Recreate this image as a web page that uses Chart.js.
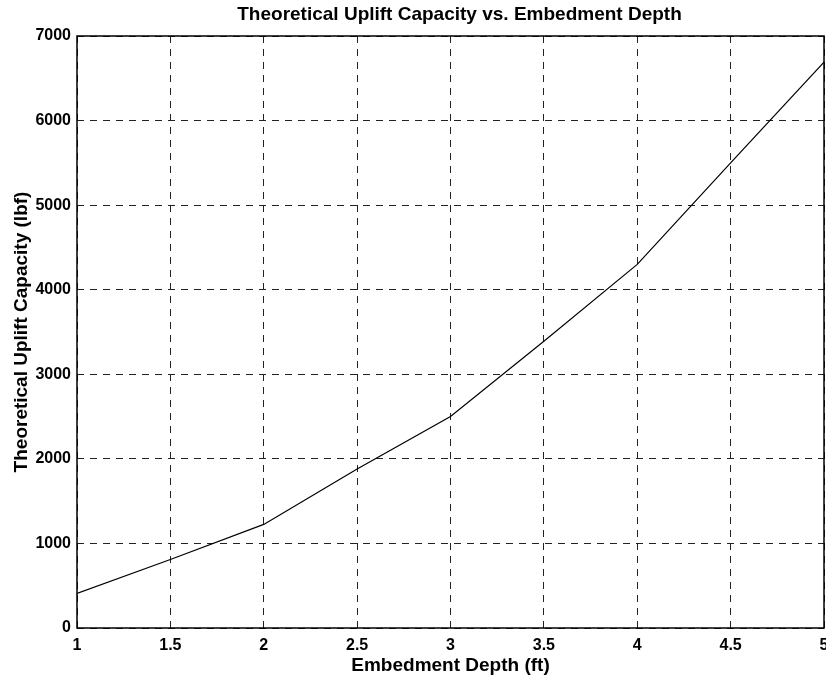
<!DOCTYPE html>
<html>
<head>
<meta charset="utf-8">
<script src="https://cdn.jsdelivr.net/npm/chart.js@4"></script>
<style>
  html, body { margin: 0; padding: 0; background: #fff; }
  #wrap { width: 826px; height: 679px; }
</style>
</head>
<body>
<div id="wrap"><canvas id="chart" width="826" height="679"></canvas></div>
<script>
// embedment depth (ft) and theoretical uplift capacity (lbf)
var depths = [1, 1.5, 2, 2.5, 3, 3.5, 4, 4.5, 5];
var capacity = [410, 810, 1225, 1880, 2500, 3390, 4300, 5500, 6690];
var xTicks = [1, 1.5, 2, 2.5, 3, 3.5, 4, 4.5, 5];
var yTicks = [0, 1000, 2000, 3000, 4000, 5000, 6000, 7000];
var chartTitle = 'Theoretical Uplift Capacity vs. Embedment Depth';

var points = [];
for (var i = 0; i < depths.length; i++) {
    points.push({x: depths[i], y: capacity[i]});
}

var fam = 'Arial, "Liberation Sans", sans-serif';
var tickFont = {family: fam, size: 16, weight: 'bold'};
var labelFont = {family: fam, size: 19, weight: 'bold'};

// matlab style box round the plot, title centred over the axes
var boxPlugin = {
    id: 'box',
    afterDraw: function (chart) {
        var a = chart.chartArea, ctx = chart.ctx;
        ctx.save();
        ctx.strokeStyle = '#000';
        ctx.lineWidth = 1.5;
        ctx.strokeRect(a.left, a.top, a.right - a.left, a.bottom - a.top);
        ctx.fillStyle = '#000';
        ctx.font = 'bold 19px ' + fam;
        ctx.textAlign = 'center';
        ctx.textBaseline = 'middle';
        ctx.fillText(chartTitle, (a.left + a.right) / 2 + 9, 15);
        ctx.restore();
    }
};

var ctx = document.getElementById('chart');
var myChart = new Chart(ctx, {
    type: 'line',
    data: {
        datasets: [{
            data: points,
            borderColor: '#000',
            borderWidth: 1.2,
            pointRadius: 0,
            tension: 0,
            fill: false
        }]
    },
    options: {
        responsive: false,
        animation: false,
        layout: {padding: {left: 0, right: 2, top: 36, bottom: 0}},
        plugins: {
            legend: {display: false},
            tooltip: {enabled: false},
            title: {display: false}
        },
        scales: {
            x: {
                type: 'linear',
                min: 1,
                max: 5,
                afterBuildTicks: function (s) { s.ticks = xTicks.map(function (v) { return {value: v}; }); },
                afterFit: function (s) { s.height = 51; s.paddingLeft = 0; s.paddingRight = 0; },
                ticks: {color: '#000', font: tickFont, padding: 8, maxRotation: 0,
                    callback: function (v) { return String(v); }},
                grid: {color: '#222', lineWidth: 1, drawTicks: false},
                border: {display: false, dash: [7, 6]},
                title: {display: true, text: 'Embedment Depth (ft)', color: '#000', font: labelFont, padding: {top: 0, bottom: 2}}
            },
            y: {
                min: 0,
                max: 7000,
                afterBuildTicks: function (s) { s.ticks = yTicks.map(function (v) { return {value: v}; }); },
                afterFit: function (s) { s.width = 77; s.paddingTop = 0; s.paddingBottom = 0; },
                ticks: {color: '#000', font: tickFont, padding: 6,
                    callback: function (v) { return String(v); }},
                grid: {color: '#222', lineWidth: 1, drawTicks: false},
                border: {display: false, dash: [7, 6]},
                title: {display: true, text: 'Theoretical Uplift Capacity (lbf)', color: '#000', font: labelFont, padding: {top: 10, bottom: 0}}
            }
        }
    },
    plugins: [boxPlugin]
});
</script>
</body>
</html>
